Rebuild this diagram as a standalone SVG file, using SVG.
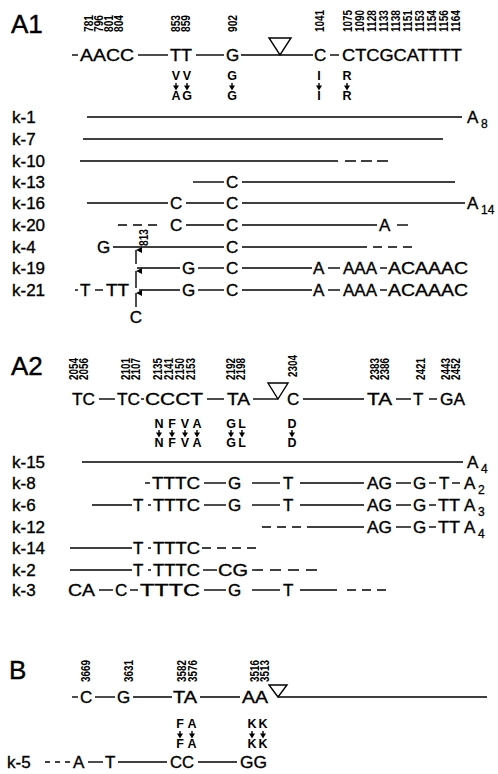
<svg xmlns="http://www.w3.org/2000/svg" width="498" height="774" viewBox="0 0 498 774">
<style>
text{font-family:"Liberation Sans",Arial,sans-serif;fill:#000}
.s{font-size:17px;stroke:#000;stroke-width:0.35}
.t{font-size:26px;stroke:#000;stroke-width:0.4}
.k{font-size:17px;stroke:#000;stroke-width:0.35}
.n{font-size:12px;font-weight:bold}
.m{font-size:12.5px;font-weight:bold;text-anchor:middle}
.sub{font-size:12px;stroke:#000;stroke-width:0.3}
line,.ln{stroke:#000;stroke-width:1.4;fill:none}
.tri{fill:none;stroke:#000;stroke-width:1.4}
</style>
<defs>
<g id="ma"><line x1="0" y1="0" x2="0" y2="3" stroke-width="1.4"/><path d="M-3,2.6 H3 L0,7.6 Z" fill="#000"/></g>
<marker id="up" viewBox="0 0 6 6" refX="3" refY="0" markerWidth="6" markerHeight="6" markerUnits="userSpaceOnUse" orient="auto-start-reverse"><path d="M0,6 L3,0 L6,6 Z" fill="#000"/></marker>
</defs>

<!-- ===== A1 ===== -->
<g id="a1-title"><text class="t" x="11" y="33">A1</text></g>
<g id="a1-positions">
<text class="n" transform="translate(93,32) rotate(-90)" textLength="17" lengthAdjust="spacingAndGlyphs">781</text>
<text class="n" transform="translate(103,32) rotate(-90)" textLength="17" lengthAdjust="spacingAndGlyphs">796</text>
<text class="n" transform="translate(113,32) rotate(-90)" textLength="17" lengthAdjust="spacingAndGlyphs">801</text>
<text class="n" transform="translate(123,32) rotate(-90)" textLength="17" lengthAdjust="spacingAndGlyphs">804</text>
<text class="n" transform="translate(180,32) rotate(-90)" textLength="17" lengthAdjust="spacingAndGlyphs">853</text>
<text class="n" transform="translate(190,32) rotate(-90)" textLength="17" lengthAdjust="spacingAndGlyphs">859</text>
<text class="n" transform="translate(237,32) rotate(-90)" textLength="17" lengthAdjust="spacingAndGlyphs">902</text>
<text class="n" transform="translate(324,32) rotate(-90)" textLength="22" lengthAdjust="spacingAndGlyphs">1041</text>
<text class="n" transform="translate(352,32) rotate(-90)" textLength="22" lengthAdjust="spacingAndGlyphs">1075</text>
<text class="n" transform="translate(364,32) rotate(-90)" textLength="22" lengthAdjust="spacingAndGlyphs">1090</text>
<text class="n" transform="translate(376,32) rotate(-90)" textLength="22" lengthAdjust="spacingAndGlyphs">1128</text>
<text class="n" transform="translate(388,32) rotate(-90)" textLength="22" lengthAdjust="spacingAndGlyphs">1133</text>
<text class="n" transform="translate(400,32) rotate(-90)" textLength="22" lengthAdjust="spacingAndGlyphs">1138</text>
<text class="n" transform="translate(412,32) rotate(-90)" textLength="22" lengthAdjust="spacingAndGlyphs">1151</text>
<text class="n" transform="translate(424,32) rotate(-90)" textLength="22" lengthAdjust="spacingAndGlyphs">1153</text>
<text class="n" transform="translate(436,32) rotate(-90)" textLength="22" lengthAdjust="spacingAndGlyphs">1154</text>
<text class="n" transform="translate(448,32) rotate(-90)" textLength="22" lengthAdjust="spacingAndGlyphs">1156</text>
<text class="n" transform="translate(460,32) rotate(-90)" textLength="22" lengthAdjust="spacingAndGlyphs">1164</text>
</g>
<g id="a1-reference">
<line x1="72" y1="55" x2="78" y2="55"/>
<text class="s" x="80" y="61" textLength="54" lengthAdjust="spacingAndGlyphs">AACC</text>
<line x1="138" y1="55" x2="168" y2="55"/>
<text class="s" x="170" y="61" textLength="22" lengthAdjust="spacingAndGlyphs">TT</text>
<line x1="196" y1="55" x2="224" y2="55"/>
<text class="s" x="226" y="61">G</text>
<line x1="241" y1="55" x2="313" y2="55"/>
<path class="tri" d="M269,38 H291 L280,55 Z"/>
<text class="s" x="314" y="61">C</text>
<line x1="330" y1="55" x2="339" y2="55"/>
<text class="s" x="342" y="61" textLength="120" lengthAdjust="spacingAndGlyphs">CTCGCATTTT</text>
</g>
<g id="a1-aa">
<text class="m" x="176" y="80">V</text><text class="m" x="187" y="80">V</text>
<use href="#ma" x="176" y="83"/><use href="#ma" x="187" y="83"/>
<text class="m" x="176" y="100">A</text><text class="m" x="187" y="100">G</text>
<text class="m" x="232" y="80">G</text><use href="#ma" x="232" y="83"/><text class="m" x="232" y="100">G</text>
<text class="m" x="319" y="80">I</text><use href="#ma" x="319" y="83"/><text class="m" x="319" y="100">I</text>
<text class="m" x="347" y="80">R</text><use href="#ma" x="347" y="83"/><text class="m" x="347" y="100">R</text>
</g>

<g id="a1-k1"><text class="k" x="12" y="123">k-1</text><text class="s" x="467" y="123">A</text><text class="sub" x="481" y="128">8</text></g>
<g id="a1-k7"><text class="k" x="12" y="145">k-7</text></g>
<g id="a1-k10"><text class="k" x="12" y="167">k-10</text></g>
<g id="a1-k13"><text class="k" x="12" y="188">k-13</text><text class="s" x="226" y="188">C</text></g>
<g id="a1-k16"><text class="k" x="12" y="209">k-16</text><text class="s" x="170" y="209">C</text><text class="s" x="226" y="209">C</text><text class="s" x="467" y="209">A</text><text class="sub" x="481" y="214">14</text></g>
<g id="a1-k20"><text class="k" x="12" y="231">k-20</text><text class="s" x="170" y="231">C</text><text class="s" x="226" y="231">C</text><text class="s" x="379" y="231">A</text></g>
<g id="a1-k4"><text class="k" x="12" y="253">k-4</text><text class="s" x="97" y="253">G</text><text class="s" x="226" y="253">C</text>
<text class="n" transform="translate(148,246) rotate(-90)" textLength="17" lengthAdjust="spacingAndGlyphs">813</text></g>
<g id="a1-k19"><text class="k" x="12" y="274">k-19</text><text class="s" x="182" y="274">G</text><text class="s" x="226" y="274">C</text><text class="s" x="313" y="274">A</text><text class="s" x="343" y="274" textLength="34" lengthAdjust="spacingAndGlyphs">AAA</text><text class="s" x="388" y="274" textLength="80" lengthAdjust="spacingAndGlyphs">ACAAAC</text></g>
<g id="a1-k21"><text class="k" x="12" y="296">k-21</text><text class="s" x="80" y="296">T</text><text class="s" x="106" y="296" textLength="23" lengthAdjust="spacingAndGlyphs">TT</text><text class="s" x="182" y="296">G</text><text class="s" x="226" y="296">C</text><text class="s" x="313" y="296">A</text><text class="s" x="343" y="296" textLength="34" lengthAdjust="spacingAndGlyphs">AAA</text><text class="s" x="388" y="296" textLength="80" lengthAdjust="spacingAndGlyphs">ACAAAC</text>
<text class="s" x="136" y="323" text-anchor="middle">C</text></g>

<g id="a1-connectors">
<line x1="87" y1="117" x2="462" y2="117"/>
<line x1="83" y1="139" x2="443" y2="139"/>
<line x1="80" y1="161" x2="338" y2="161"/>
<line x1="345" y1="161" x2="388" y2="161" style="stroke-dasharray:11 5"/>
<line x1="193" y1="182" x2="224" y2="182"/><line x1="242" y1="182" x2="455" y2="182"/>
<line x1="87" y1="203" x2="168" y2="203"/><line x1="186" y1="203" x2="224" y2="203"/><line x1="242" y1="203" x2="465" y2="203"/>
<line x1="118" y1="225" x2="160" y2="225" style="stroke-dasharray:9 6"/><line x1="186" y1="225" x2="224" y2="225"/><line x1="242" y1="225" x2="377" y2="225"/><line x1="397" y1="225" x2="408" y2="225"/>
<line x1="113" y1="247" x2="224" y2="247"/><line x1="242" y1="247" x2="367" y2="247"/><line x1="373" y1="247" x2="415" y2="247" style="stroke-dasharray:9 6"/>
<line x1="137" y1="268" x2="180" y2="268"/><line x1="198" y1="268" x2="224" y2="268"/><line x1="242" y1="268" x2="312" y2="268"/><line x1="328" y1="268" x2="340" y2="268"/><line x1="380" y1="268" x2="387" y2="268"/>
<line x1="75" y1="290" x2="78" y2="290"/><line x1="95" y1="290" x2="103" y2="290"/><line x1="139" y1="290" x2="180" y2="290"/><line x1="198" y1="290" x2="224" y2="290"/><line x1="242" y1="290" x2="312" y2="290"/><line x1="328" y1="290" x2="340" y2="290"/><line x1="380" y1="290" x2="387" y2="290"/>
<line x1="136" y1="264" x2="136" y2="250" marker-end="url(#up)"/>
<line x1="136" y1="288" x2="136" y2="271" marker-end="url(#up)"/>
<line x1="136" y1="307" x2="136" y2="293" marker-end="url(#up)"/>
</g>

<!-- ===== A2 ===== -->
<g id="a2-title"><text class="t" x="11" y="375">A2</text></g>
<g id="a2-positions">
<text class="n" transform="translate(78,380) rotate(-90)" textLength="22" lengthAdjust="spacingAndGlyphs">2054</text>
<text class="n" transform="translate(88,380) rotate(-90)" textLength="22" lengthAdjust="spacingAndGlyphs">2056</text>
<text class="n" transform="translate(130,380) rotate(-90)" textLength="22" lengthAdjust="spacingAndGlyphs">2101</text>
<text class="n" transform="translate(140,380) rotate(-90)" textLength="22" lengthAdjust="spacingAndGlyphs">2107</text>
<text class="n" transform="translate(162,380) rotate(-90)" textLength="22" lengthAdjust="spacingAndGlyphs">2135</text>
<text class="n" transform="translate(173,380) rotate(-90)" textLength="22" lengthAdjust="spacingAndGlyphs">2141</text>
<text class="n" transform="translate(184,380) rotate(-90)" textLength="22" lengthAdjust="spacingAndGlyphs">2150</text>
<text class="n" transform="translate(195,380) rotate(-90)" textLength="22" lengthAdjust="spacingAndGlyphs">2153</text>
<text class="n" transform="translate(235,380) rotate(-90)" textLength="22" lengthAdjust="spacingAndGlyphs">2192</text>
<text class="n" transform="translate(245,380) rotate(-90)" textLength="22" lengthAdjust="spacingAndGlyphs">2198</text>
<text class="n" transform="translate(297,377) rotate(-90)" textLength="22" lengthAdjust="spacingAndGlyphs">2304</text>
<text class="n" transform="translate(379,380) rotate(-90)" textLength="22" lengthAdjust="spacingAndGlyphs">2383</text>
<text class="n" transform="translate(389,380) rotate(-90)" textLength="22" lengthAdjust="spacingAndGlyphs">2386</text>
<text class="n" transform="translate(425,380) rotate(-90)" textLength="22" lengthAdjust="spacingAndGlyphs">2421</text>
<text class="n" transform="translate(450,380) rotate(-90)" textLength="22" lengthAdjust="spacingAndGlyphs">2443</text>
<text class="n" transform="translate(460,380) rotate(-90)" textLength="22" lengthAdjust="spacingAndGlyphs">2452</text>
</g>
<g id="a2-reference">
<text class="s" x="72" y="405" textLength="23" lengthAdjust="spacingAndGlyphs">TC</text>
<line x1="99" y1="399" x2="115" y2="399"/>
<text class="s" x="117" y="405" textLength="23" lengthAdjust="spacingAndGlyphs">TC</text>
<line x1="141" y1="399" x2="144" y2="399"/>
<text class="s" x="145" y="405" textLength="58" lengthAdjust="spacingAndGlyphs">CCCT</text>
<line x1="207" y1="399" x2="224" y2="399"/>
<text class="s" x="227" y="405" textLength="23" lengthAdjust="spacingAndGlyphs">TA</text>
<line x1="253" y1="399" x2="278" y2="399"/>
<path class="tri" d="M268,383 H288 L278,399 Z"/>
<text class="s" x="287" y="405">C</text>
<line x1="303" y1="399" x2="364" y2="399"/>
<text class="s" x="367" y="405" textLength="25" lengthAdjust="spacingAndGlyphs">TA</text>
<line x1="396" y1="399" x2="411" y2="399"/>
<text class="s" x="413" y="405">T</text>
<line x1="429" y1="399" x2="437" y2="399"/>
<text class="s" x="440" y="405" textLength="25" lengthAdjust="spacingAndGlyphs">GA</text>
</g>
<g id="a2-aa">
<text class="m" x="159" y="428">N</text><text class="m" x="172" y="428">F</text><text class="m" x="185" y="428">V</text><text class="m" x="197" y="428">A</text>
<use href="#ma" x="159" y="430"/><use href="#ma" x="172" y="430"/><use href="#ma" x="185" y="430"/><use href="#ma" x="197" y="430"/>
<text class="m" x="159" y="447">N</text><text class="m" x="172" y="447">F</text><text class="m" x="185" y="447">V</text><text class="m" x="197" y="447">A</text>
<text class="m" x="231" y="428">G</text><text class="m" x="242" y="428">L</text>
<use href="#ma" x="231" y="430"/><use href="#ma" x="242" y="430"/>
<text class="m" x="231" y="447">G</text><text class="m" x="242" y="447">L</text>
<text class="m" x="292" y="428">D</text><use href="#ma" x="292" y="430"/><text class="m" x="292" y="447">D</text>
</g>
<g id="a2-k15"><text class="k" x="12" y="468">k-15</text><text class="s" x="467" y="468">A</text><text class="sub" x="481" y="473">4</text></g>
<g id="a2-k8"><text class="k" x="12" y="489">k-8</text><text class="s" x="152" y="489" textLength="48" lengthAdjust="spacingAndGlyphs">TTTC</text><text class="s" x="228" y="489">G</text><text class="s" x="283" y="489">T</text><text class="s" x="367" y="489" textLength="25" lengthAdjust="spacingAndGlyphs">AG</text><text class="s" x="413" y="489">G</text><text class="s" x="439" y="489">T</text><text class="s" x="464" y="489">A</text><text class="sub" x="478" y="494">2</text></g>
<g id="a2-k6"><text class="k" x="12" y="511">k-6</text><text class="s" x="133" y="511">T</text><text class="s" x="153" y="511" textLength="47" lengthAdjust="spacingAndGlyphs">TTTC</text><text class="s" x="228" y="511">G</text><text class="s" x="283" y="511">T</text><text class="s" x="367" y="511" textLength="25" lengthAdjust="spacingAndGlyphs">AG</text><text class="s" x="413" y="511">G</text><text class="s" x="438" y="511" textLength="22" lengthAdjust="spacingAndGlyphs">TT</text><text class="s" x="464" y="511">A</text><text class="sub" x="478" y="516">3</text></g>
<g id="a2-k12"><text class="k" x="12" y="533">k-12</text><text class="s" x="367" y="533" textLength="25" lengthAdjust="spacingAndGlyphs">AG</text><text class="s" x="413" y="533">G</text><text class="s" x="438" y="533" textLength="22" lengthAdjust="spacingAndGlyphs">TT</text><text class="s" x="464" y="533">A</text><text class="sub" x="478" y="538">4</text></g>
<g id="a2-k14"><text class="k" x="12" y="554">k-14</text><text class="s" x="133" y="554">T</text><text class="s" x="153" y="554" textLength="47" lengthAdjust="spacingAndGlyphs">TTTC</text></g>
<g id="a2-k2"><text class="k" x="12" y="576">k-2</text><text class="s" x="133" y="576">T</text><text class="s" x="153" y="576" textLength="47" lengthAdjust="spacingAndGlyphs">TTTC</text><text class="s" x="218" y="576" textLength="30" lengthAdjust="spacingAndGlyphs">CG</text></g>
<g id="a2-k3"><text class="k" x="12" y="596">k-3</text><text class="s" x="68" y="596" textLength="27" lengthAdjust="spacingAndGlyphs">CA</text><text class="s" x="115" y="596">C</text><text class="s" x="140" y="596" textLength="60" lengthAdjust="spacingAndGlyphs">TTTC</text><text class="s" x="228" y="596">G</text><text class="s" x="283" y="596">T</text></g>

<g id="a2-connectors">
<line x1="82" y1="462" x2="463" y2="462"/>
<line x1="145" y1="483" x2="150" y2="483"/><line x1="204" y1="483" x2="226" y2="483"/><line x1="252" y1="483" x2="280" y2="483"/><line x1="300" y1="483" x2="364" y2="483"/><line x1="396" y1="483" x2="411" y2="483"/><line x1="429" y1="483" x2="436" y2="483"/><line x1="452" y1="483" x2="460" y2="483"/>
<line x1="92" y1="505" x2="132" y2="505"/><line x1="148" y1="505" x2="151" y2="505"/><line x1="204" y1="505" x2="226" y2="505"/><line x1="252" y1="505" x2="280" y2="505"/><line x1="300" y1="505" x2="364" y2="505"/><line x1="396" y1="505" x2="411" y2="505"/><line x1="429" y1="505" x2="436" y2="505"/>
<line x1="262" y1="527" x2="301" y2="527" style="stroke-dasharray:9 6"/><line x1="307" y1="527" x2="364" y2="527"/><line x1="396" y1="527" x2="411" y2="527"/><line x1="429" y1="527" x2="436" y2="527"/>
<line x1="70" y1="548" x2="132" y2="548"/><line x1="148" y1="548" x2="151" y2="548"/><line x1="202" y1="548" x2="258" y2="548" style="stroke-dasharray:9 6"/>
<line x1="70" y1="570" x2="132" y2="570"/><line x1="148" y1="570" x2="151" y2="570"/><line x1="203" y1="570" x2="217" y2="570"/><line x1="252" y1="570" x2="318" y2="570" style="stroke-dasharray:11 7"/>
<line x1="99" y1="590" x2="113" y2="590"/><line x1="130" y1="590" x2="138" y2="590"/><line x1="204" y1="590" x2="226" y2="590"/><line x1="252" y1="590" x2="280" y2="590"/><line x1="300" y1="590" x2="337" y2="590"/><line x1="347" y1="590" x2="388" y2="590" style="stroke-dasharray:9 6"/>
</g>

<!-- ===== B ===== -->
<g id="b-title"><text class="t" x="9" y="679">B</text></g>
<g id="b-positions">
<text class="n" transform="translate(90,682) rotate(-90)" textLength="22" lengthAdjust="spacingAndGlyphs">3669</text>
<text class="n" transform="translate(133,682) rotate(-90)" textLength="22" lengthAdjust="spacingAndGlyphs">3631</text>
<text class="n" transform="translate(186,682) rotate(-90)" textLength="22" lengthAdjust="spacingAndGlyphs">3582</text>
<text class="n" transform="translate(197,682) rotate(-90)" textLength="22" lengthAdjust="spacingAndGlyphs">3576</text>
<text class="n" transform="translate(259,682) rotate(-90)" textLength="22" lengthAdjust="spacingAndGlyphs">3516</text>
<text class="n" transform="translate(269,682) rotate(-90)" textLength="22" lengthAdjust="spacingAndGlyphs">3513</text>
</g>
<g id="b-reference">
<line x1="72" y1="697" x2="78" y2="697"/>
<text class="s" x="80" y="703">C</text>
<line x1="95" y1="697" x2="115" y2="697"/>
<text class="s" x="117" y="703">G</text>
<line x1="133" y1="697" x2="172" y2="697"/>
<text class="s" x="173" y="703" textLength="24" lengthAdjust="spacingAndGlyphs">TA</text>
<line x1="200" y1="697" x2="240" y2="697"/>
<text class="s" x="242" y="703" textLength="26" lengthAdjust="spacingAndGlyphs">AA</text>
<path class="tri" d="M269,685 H287 L278,697 Z"/>
<line x1="278" y1="697" x2="487" y2="697"/>
</g>
<g id="b-aa">
<text class="m" x="180" y="728">F</text><text class="m" x="192" y="728">A</text>
<use href="#ma" x="180" y="731"/><use href="#ma" x="192" y="731"/>
<text class="m" x="180" y="748">F</text><text class="m" x="192" y="748">A</text>
<text class="m" x="252" y="728">K</text><text class="m" x="263" y="728">K</text>
<use href="#ma" x="252" y="731"/><use href="#ma" x="263" y="731"/>
<text class="m" x="252" y="748">K</text><text class="m" x="263" y="748">K</text>
</g>
<g id="b-k5"><text class="k" x="7" y="768">k-5</text><text class="s" x="73" y="768">A</text><text class="s" x="105" y="768">T</text><text class="s" x="170" y="768" textLength="24" lengthAdjust="spacingAndGlyphs">CC</text><text class="s" x="240" y="768" textLength="27" lengthAdjust="spacingAndGlyphs">GG</text></g>
<g id="b-connectors">
<line x1="45" y1="762" x2="72" y2="762" style="stroke-dasharray:5 5"/>
<line x1="88" y1="762" x2="103" y2="762"/><line x1="118" y1="762" x2="167" y2="762"/><line x1="198" y1="762" x2="237" y2="762"/>
</g>
</svg>
